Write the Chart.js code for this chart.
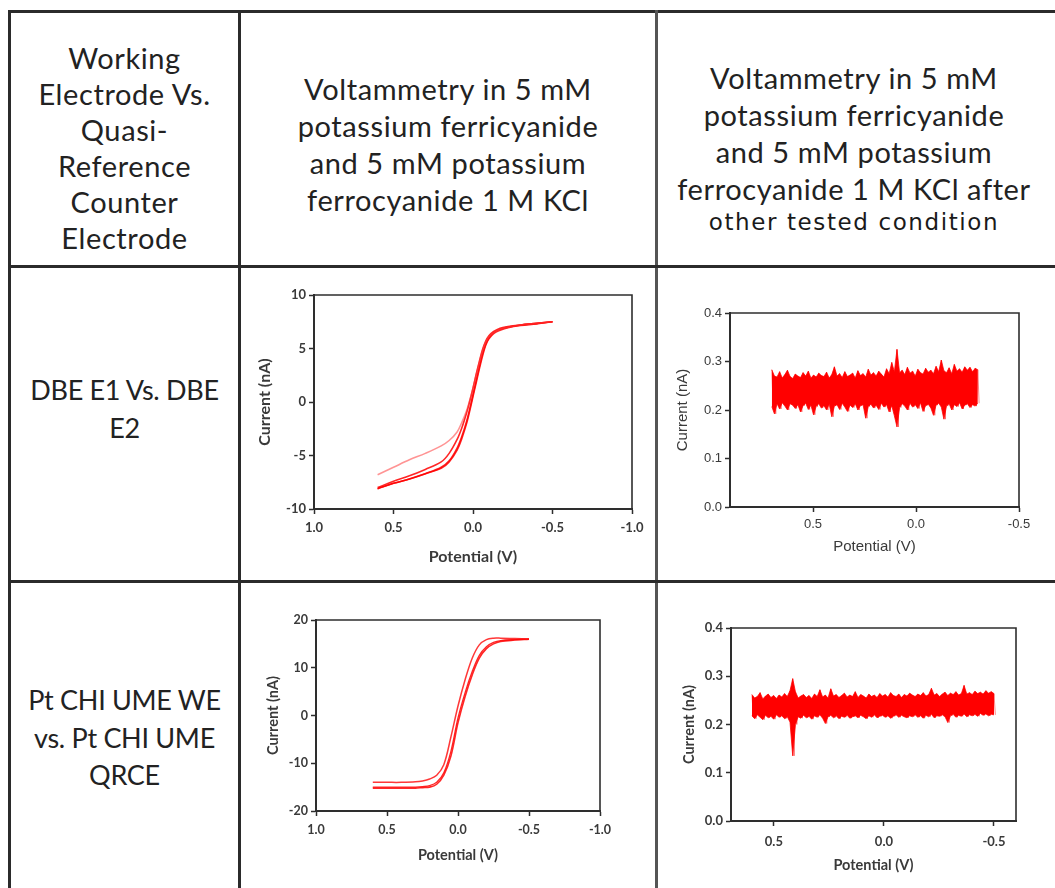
<!DOCTYPE html>
<html><head><meta charset="utf-8">
<script src="https://cdn.jsdelivr.net/npm/chart.js@4.4.0/dist/chart.umd.min.js"></script>
<style>
html,body{margin:0;padding:0;background:#fff;}
body{width:1055px;height:888px;position:relative;overflow:hidden;}
.ln{position:absolute;background:#2b2b2b;}
.txt{position:absolute;text-align:center;font-family:Lato,"Open Sans",sans-serif;font-size:27px;color:#222;white-space:nowrap;}
.hd{font-size:29px;letter-spacing:0.6px;}
canvas{position:absolute;}
</style></head><body>

<div class="ln" style="left:8px;top:10px;width:1047px;height:3px"></div>
<div class="ln" style="left:8px;top:10px;width:3px;height:878px"></div>
<div class="ln" style="left:238px;top:10px;width:3px;height:878px"></div>
<div class="ln" style="left:655px;top:10px;width:3px;height:878px;background:#555"></div>
<div class="ln" style="left:8px;top:265px;width:1047px;height:3px"></div>
<div class="ln" style="left:8px;top:580px;width:1047px;height:3px"></div>

<div class="txt hd" style="left:11px;width:227px;top:40px;line-height:36px">Working<br>Electrode Vs.<br>Quasi-<br>Reference<br>Counter<br>Electrode</div>
<div class="txt hd" style="left:241px;width:414px;top:70px;line-height:37px">Voltammetry in 5 mM<br>potassium ferricyanide<br>and 5 mM potassium<br>ferrocyanide 1 M KCl</div>
<div class="txt hd" style="left:658px;width:392px;top:59px;line-height:37px">Voltammetry in 5 mM<br>potassium ferricyanide<br>and 5 mM potassium<br>ferrocyanide 1 M KCl after</div>
<div class="txt" style="left:658px;width:392px;top:207px;line-height:30px;font-family:'DejaVu Sans',sans-serif;font-size:23px;letter-spacing:1.6px;color:#1a1a1a">other tested condition</div>
<div class="txt" style="left:11px;width:227px;top:371px;line-height:38px;letter-spacing:-0.3px">DBE E1 Vs. DBE<br>E2</div>
<div class="txt" style="left:11px;width:227px;top:681px;line-height:37.5px;letter-spacing:-0.3px">Pt CHI UME WE<br>vs. Pt CHI UME<br>QRCE</div>

<canvas id="c1" width="400" height="290" style="left:250px;top:280px"></canvas>
<canvas id="c2" width="380" height="275" style="left:660px;top:295px"></canvas>
<canvas id="c3" width="370" height="270" style="left:250px;top:605px"></canvas>
<canvas id="c4" width="380" height="270" style="left:660px;top:612px"></canvas>

<script>
// ---------- DATA ----------
// Chart 1: DBE E1 vs DBE E2 cyclic voltammograms
const cv1Potential = [0.6,0.5,0.4,0.3,0.2,0.15,0.1,0.07,0.04,0.02,0,-0.02,-0.04,-0.06,-0.08,-0.1,-0.13,-0.17,-0.22,-0.3,-0.4,-0.5];
const cv1SweepA = [-6.8,-6.1,-5.4,-4.8,-4.1,-3.6,-2.8,-1.9,-0.8,0.2,1.3,2.5,3.7,4.8,5.6,6.1,6.5,6.8,7.0,7.2,7.35,7.5];
const cv1SweepB = [-8.1,-7.6,-7.2,-6.7,-6.1,-5.5,-4.3,-3.2,-1.8,-0.6,0.7,2.0,3.3,4.5,5.4,6.0,6.5,6.8,7.0,7.2,7.35,7.5];
const cv1SweepC = [-8.0,-7.4,-6.9,-6.3,-5.6,-4.8,-3.5,-2.4,-1.0,0.1,1.3,2.6,3.8,4.9,5.7,6.2,6.6,6.9,7.05,7.2,7.35,7.5];
const cv1SweepD = [-8.1,-7.6,-7.2,-6.7,-6.2,-5.6,-4.5,-3.4,-2.0,-0.8,0.5,1.8,3.1,4.3,5.3,5.9,6.4,6.7,6.95,7.15,7.3,7.5];
const cv1XTicks = [1.0,0.5,0.0,-0.5,-1.0];
const cv1XLabels = ["1.0","0.5","0.0","-0.5","-1.0"];
const cv1YTicks = [10,5,0,-5,-10];
const cv1YLabels = ["10","5","0","-5","-10"];

// Chart 2: DBE after other tested condition (noisy trace, per-sample max/min envelope)
const noise2Start = 0.7, noise2End = -0.3;
const noise2High = [0.283,0.27,0.268,0.279,0.266,0.273,0.282,0.269,0.265,0.274,
 0.27,0.267,0.277,0.27,0.28,0.266,0.272,0.268,0.276,0.271,
 0.269,0.278,0.266,0.273,0.289,0.27,0.275,0.267,0.279,0.269,
 0.272,0.276,0.266,0.281,0.271,0.275,0.268,0.284,0.272,0.277,
 0.27,0.28,0.274,0.268,0.285,0.275,0.298,0.279,0.325,0.277,
 0.282,0.273,0.288,0.276,0.28,0.27,0.284,0.277,0.274,0.286,
 0.278,0.282,0.275,0.29,0.279,0.303,0.281,0.277,0.287,0.275,
 0.294,0.28,0.285,0.278,0.289,0.282,0.288,0.279,0.286,0.283];
const noise2Low = [0.207,0.192,0.213,0.202,0.215,0.208,0.2,0.213,0.21,0.203,
 0.211,0.196,0.209,0.214,0.201,0.21,0.19,0.207,0.213,0.204,
 0.209,0.2,0.212,0.186,0.208,0.211,0.201,0.214,0.206,0.197,
 0.21,0.205,0.213,0.2,0.209,0.211,0.183,0.207,0.212,0.204,
 0.21,0.201,0.214,0.206,0.211,0.196,0.209,0.188,0.165,0.205,
 0.213,0.208,0.2,0.214,0.206,0.211,0.203,0.215,0.197,0.209,
 0.212,0.204,0.189,0.21,0.214,0.206,0.181,0.208,0.213,0.2,
 0.211,0.207,0.215,0.202,0.21,0.213,0.205,0.211,0.208,0.214];
const noise2XTicks = [0.5,0.0,-0.5];
const noise2XLabels = ["0.5","0.0","-0.5"];
const noise2YTicks = [0.4,0.3,0.2,0.1,0.0];
const noise2YLabels = ["0.4","0.3","0.2","0.1","0.0"];

// Chart 3: Pt CHI UME WE vs Pt CHI UME QRCE cyclic voltammograms
const cv3Potential = [0.6,0.5,0.4,0.3,0.25,0.2,0.15,0.1,0.05,0,-0.05,-0.1,-0.15,-0.2,-0.25,-0.3,-0.4,-0.5];
const cv3SweepA = [-14.0,-14.0,-14.0,-13.9,-13.7,-13.3,-12.5,-10.3,-4.5,2.0,7.5,12.0,14.8,15.9,16.2,16.2,16.1,16.0];
const cv3SweepB = [-15.2,-15.2,-15.2,-15.2,-15.1,-15.0,-14.4,-12.5,-8.5,-1.5,4.0,8.5,12.0,14.0,15.0,15.5,15.8,16.0];
const cv3SweepC = [-15.0,-15.0,-15.0,-15.0,-14.9,-14.7,-14.0,-12.0,-7.5,-0.5,4.8,9.2,12.6,14.4,15.3,15.7,15.9,16.0];
const cv3XTicks = [1.0,0.5,0.0,-0.5,-1.0];
const cv3XLabels = ["1.0","0.5","0.0","-0.5","-1.0"];
const cv3YTicks = [20,10,0,-10,-20];
const cv3YLabels = ["20","10","0","-10","-20"];

// Chart 4: Pt UME after other tested condition (noisy trace envelope)
const noise4Start = 0.6, noise4End = -0.5;
const noise4High = [0.262,0.255,0.258,0.266,0.253,0.259,0.263,0.256,0.26,0.254,
 0.261,0.257,0.264,0.258,0.27,0.295,0.268,0.255,0.259,0.262,
 0.256,0.26,0.254,0.263,0.258,0.272,0.257,0.261,0.255,0.274,
 0.259,0.262,0.256,0.26,0.265,0.257,0.261,0.258,0.268,0.256,
 0.262,0.259,0.255,0.263,0.258,0.261,0.256,0.264,0.259,0.262,
 0.257,0.266,0.26,0.258,0.263,0.256,0.262,0.259,0.265,0.261,
 0.258,0.263,0.26,0.266,0.259,0.262,0.275,0.261,0.264,0.258,
 0.263,0.267,0.26,0.265,0.262,0.268,0.261,0.264,0.281,0.263,
 0.266,0.262,0.269,0.264,0.267,0.263,0.27,0.265,0.268,0.264];
const noise4Low = [0.218,0.212,0.22,0.215,0.21,0.219,0.214,0.217,0.211,0.22,
 0.215,0.218,0.212,0.216,0.205,0.135,0.2,0.216,0.213,0.219,
 0.214,0.217,0.211,0.218,0.215,0.22,0.213,0.202,0.216,0.219,
 0.214,0.218,0.212,0.217,0.215,0.219,0.213,0.216,0.218,0.214,
 0.219,0.216,0.212,0.218,0.215,0.22,0.214,0.217,0.219,0.215,
 0.218,0.213,0.217,0.22,0.215,0.219,0.216,0.214,0.218,0.216,
 0.22,0.215,0.218,0.213,0.219,0.216,0.221,0.214,0.218,0.217,
 0.22,0.216,0.204,0.218,0.221,0.215,0.219,0.217,0.222,0.216,
 0.22,0.218,0.221,0.217,0.223,0.219,0.222,0.218,0.221,0.22];
const noise4XTicks = [0.5,0.0,-0.5];
const noise4XLabels = ["0.5","0.0","-0.5"];
const noise4YTicks = [0.4,0.3,0.2,0.1,0.0];
const noise4YLabels = ["0.4","0.3","0.2","0.1","0.0"];

const xTitle = "Potential (V)";
const yTitle = "Current (nA)";

// ---------- BUILD ----------
function cvSeries(V, I){ return V.map((v,k)=>({x:v,y:I[k]})); }
function sweepX(start, end, n, k){ return start + (end-start)*k/(n-1); }
function envSeries(start, end, vals){ return vals.map((y,k)=>({x:sweepX(start,end,vals.length,k), y})); }
function noiseSeries(start, end, hi, lo){
  const n = hi.length, pts = [], half = (end-start)/(n-1)/2;
  for(let k=0;k<n;k++){
    const v = sweepX(start,end,n,k);
    pts.push({x:v,y:hi[k]}); pts.push({x:v+half,y:lo[k]});
  }
  return pts;
}
const framePlugin = {id:'frame', afterDraw(c){
  const {ctx, chartArea:a} = c; ctx.save(); ctx.strokeStyle='#2e2e2e'; ctx.lineWidth=1.6;
  ctx.beginPath(); ctx.moveTo(a.left,a.top); ctx.lineTo(a.right,a.top); ctx.lineTo(a.right,a.bottom); ctx.stroke(); ctx.restore();
}};
function make(id, datasets, cfg){
  const axisColor = '#2e2e2e', txt = '#3a3a3a';
  const font = {family: cfg.family, size: cfg.fs, weight: cfg.weight};
  const tfont = {family: cfg.family, size: cfg.tfs, weight: cfg.weight};
  new Chart(document.getElementById(id), {
    type:'scatter',
    data:{datasets},
    options:{
      responsive:false, animation:false, devicePixelRatio:1,
      layout:{padding:{top:cfg.padTop,right:cfg.padRight,left:0,bottom:0}},
      plugins:{legend:{display:false},tooltip:{enabled:false}},
      elements:{point:{radius:0}},
      scales:{
        x:{type:'linear', reverse:true, min:cfg.xMin, max:cfg.xMax,
          afterBuildTicks:s=>{s.ticks = cfg.xTicks.map(v=>({value:v}));},
          afterFit:s=>{s.height = cfg.xH;},
          ticks:{color:txt, font, padding:cfg.xTickPad, maxRotation:0, autoSkip:false,
            callback:(v)=>cfg.xLabels[cfg.xTicks.findIndex(t=>Math.abs(t-v)<1e-9)]},
          grid:{display:true, drawOnChartArea:false, tickLength:5, tickColor:axisColor, tickWidth:1.5},
          border:{display:true, color:axisColor, width:2},
          title:{display:true, text:xTitle, color:txt, font:tfont, padding:{top:0,bottom:cfg.xTitlePad}}
        },
        y:{type:'linear', min:cfg.yMin, max:cfg.yMax,
          afterBuildTicks:s=>{s.ticks = cfg.yTicks.map(v=>({value:v}));},
          afterFit:s=>{s.width = cfg.yW;},
          ticks:{color:txt, font, padding:3, autoSkip:false,
            callback:(v)=>cfg.yLabels[cfg.yTicks.findIndex(t=>Math.abs(t-v)<1e-9)]},
          grid:{display:true, drawOnChartArea:false, tickLength:5, tickColor:axisColor, tickWidth:1.5},
          border:{display:true, color:axisColor, width:2},
          title:{display:true, text:yTitle, color:txt, font:tfont, padding:{top:cfg.yTitlePad,bottom:0}}
        }
      }
    },
    plugins:[framePlugin]
  });
}
const red = 'rgba(255,0,0,0.85)';
const cvStyle = (color,w)=>({showLine:true, borderColor:color, borderWidth:w, pointRadius:0, tension:0.35, fill:false});
const noiseSets = (start,end,hi,lo)=>[
  {data:envSeries(start,end,hi), showLine:true, borderColor:'rgba(255,0,0,0.75)', borderWidth:1, pointRadius:0, tension:0, fill:false},
  {data:envSeries(start,end,lo), showLine:true, borderColor:'rgba(255,0,0,0.75)', borderWidth:1, pointRadius:0, tension:0, fill:'-1', backgroundColor:'#ff0000'},
  {data:noiseSeries(start,end,hi,lo), showLine:true, borderColor:'rgba(255,0,0,0.6)', borderWidth:0.8, pointRadius:0, tension:0, fill:false}
];

make('c1', [
  Object.assign({data:cvSeries(cv1Potential, cv1SweepA)}, cvStyle('rgba(255,60,60,0.55)',1.6)),
  Object.assign({data:cvSeries(cv1Potential, cv1SweepB)}, cvStyle(red,1.6)),
  Object.assign({data:cvSeries(cv1Potential, cv1SweepC)}, cvStyle(red,1.6)),
  Object.assign({data:cvSeries(cv1Potential, cv1SweepD)}, cvStyle(red,1.6))
], {family:'Lato', weight:'bold', fs:13, tfs:16, padTop:15, padRight:18, xH:61, yW:64, xMin:-1, xMax:1, yMin:-10, yMax:10, xTickPad:6,
    xTicks:cv1XTicks, xLabels:cv1XLabels, yTicks:cv1YTicks, yLabels:cv1YLabels, xTitlePad:3.5, yTitlePad:5.5});

make('c2', noiseSets(noise2Start, noise2End, noise2High, noise2Low),
  {family:'Liberation Sans', weight:'normal', fs:13, tfs:15, padTop:18, padRight:21, xH:63, yW:70, xMin:-0.5, xMax:0.903, yMin:0, yMax:0.4, xTickPad:5,
    xTicks:noise2XTicks, xLabels:noise2XLabels, yTicks:noise2YTicks, yLabels:noise2YLabels, xTitlePad:14, yTitlePad:14});

make('c3', [
  Object.assign({data:cvSeries(cv3Potential, cv3SweepA)}, cvStyle('rgba(255,20,20,0.85)',1.5)),
  Object.assign({data:cvSeries(cv3Potential, cv3SweepB)}, cvStyle(red,1.6)),
  Object.assign({data:cvSeries(cv3Potential, cv3SweepC)}, cvStyle(red,1.3))
], {family:'Lato', weight:'bold', fs:12.5, tfs:14.5, padTop:15, padRight:20, xH:64, yW:66, xMin:-1, xMax:1, yMin:-20, yMax:20, xTickPad:6,
    xTicks:cv3XTicks, xLabels:cv3XLabels, yTicks:cv3YTicks, yLabels:cv3YLabels, xTitlePad:11, yTitlePad:15});

make('c4', noiseSets(noise4Start, noise4End, noise4High, noise4Low),
  {family:'Lato', weight:'bold', fs:13, tfs:14.5, padTop:16, padRight:24, xH:61, yW:71, xMin:-0.6, xMax:0.695, yMin:0, yMax:0.4, xTickPad:8,
    xTicks:noise4XTicks, xLabels:noise4XLabels, yTicks:noise4YTicks, yLabels:noise4YLabels, xTitlePad:8, yTitlePad:21});
</script>
</body></html>
